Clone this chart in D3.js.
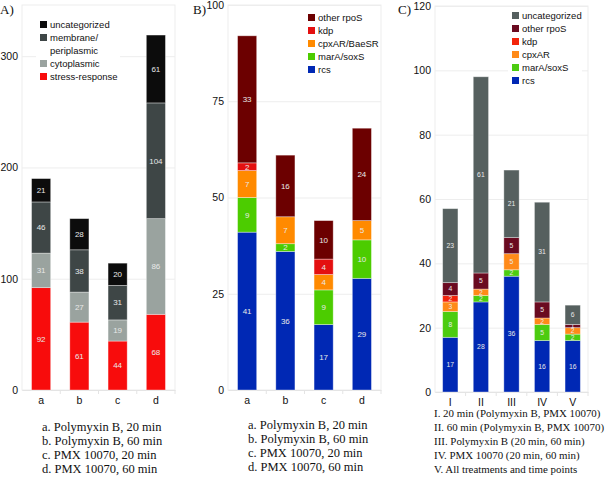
<!DOCTYPE html>
<html><head><meta charset="utf-8">
<script src="https://cdn.jsdelivr.net/npm/d3@7"></script>
<style>body{margin:0;background:#fff;} svg{display:block;}</style>
</head><body>
<svg id="c" width="608" height="483"></svg>
<script>
// ---- Panel A data
const catsA = ["a","b","c","d"];
const seriesA = ["stress-response","cytoplasmic","membrane/periplasmic","uncategorized"];
const stressA = [92,61,44,68];
const cytoA = [31,27,19,86];
const membA = [46,38,31,104];
const uncatA = [21,28,20,61];
const ticksA = [0,100,200,300];
const captionA = ["a. Polymyxin B, 20 min","b. Polymyxin B, 60 min","c. PMX 10070, 20 min","d. PMX 10070, 60 min"];
// ---- Panel B data
const catsB = ["a","b","c","d"];
const seriesB = ["rcs","marA/soxS","cpxAR/BaeSR","kdp","other rpoS"];
const rcsB = [41,36,17,29];
const marB = [9,2,9,10];
const cpxB = [7,7,4,5];
const kdpB = [2,0,4,0];
const rpoB = [33,16,10,24];
const ticksB = [0,25,50,75,100];
const captionB = captionA;
// ---- Panel C data
const catsC = ["I","II","III","IV","V"];
const seriesC = ["rcs","marA/soxS","cpxAR","kdp","other rpoS","uncategorized"];
const rcsC = [17,28,36,16,16];
const marC = [8,2,2,5,2];
const cpxC = [3,2,5,2,2];
const kdpC = [2,0,0,0,0];
const rpoC = [4,5,5,5,1];
const uncatC = [23,61,21,31,6];
const ticksC = [0,20,40,60,80,100,120];
const captionC = ["I. 20 min (Polymyxin B, PMX 10070)","II. 60 min (Polymyxin B, PMX 10070)","III. Polymyxin B (20 min, 60 min)","IV. PMX 10070 (20 min, 60 min)","V. All treatments and time points"];

const colorsA = {"uncategorized":"#0c0c0c","membrane/periplasmic":"#3e4646","cytoplasmic":"#9aa39f","stress-response":"#f80c0c"};
const colorsB = {"other rpoS":"#6c0000","kdp":"#e41010","cpxAR/BaeSR":"#ff8a00","marA/soxS":"#4ccc00","rcs":"#0028b4"};
const colorsC = {"uncategorized":"#56605f","other rpoS":"#6a0a20","kdp":"#f3240b","cpxAR":"#ff8a18","marA/soxS":"#4ccc10","rcs":"#0028b4"};

const svg = d3.select("#c");
const sans = "'Liberation Sans', Arial, sans-serif";
const serif = "'Liberation Serif', 'Times New Roman', serif";

function panel(o){
  const g = svg.append("g");
  const x = d3.scaleBand().domain(o.cats).range([o.x0,o.x1]).paddingInner(0.5).paddingOuter(0.25);
  const y = d3.scaleLinear().domain([0,o.ymax]).range([o.y0,o.ytop]);
  g.append("rect").attr("x",o.x0).attr("y",y(o.ymax)).attr("width",o.x1-o.x0).attr("height",o.y0-y(o.ymax))
    .attr("fill","none").attr("stroke","#ededed");
  g.selectAll(".gl").data(o.ticks).join("line").attr("x1",o.x0).attr("x2",o.x1)
    .attr("y1",d=>y(d)+0.5).attr("y2",d=>y(d)+0.5).attr("stroke","#ededed");
  const ya = d3.axisLeft(y).tickValues(o.ticks).tickSize(0).tickPadding(4);
  const yg = g.append("g").attr("transform",`translate(${o.x0},0)`).call(ya);
  yg.select(".domain").remove();
  yg.selectAll("text").attr("font-family",sans).attr("font-size",10.5).attr("fill","#111");
  const xa = d3.axisBottom(x).tickSize(0).tickPadding(7);
  const xg = g.append("g").attr("transform",`translate(0,${o.y0})`).call(xa);
  xg.select(".domain").attr("stroke","#e4e4e4");
  xg.selectAll("text").attr("font-family",sans).attr("font-size",10.5).attr("fill","#111");
  g.selectAll(".sep").data(d3.range(1,o.cats.length+1)).join("line")
    .attr("x1",d=>o.x0+d*(o.x1-o.x0)/o.cats.length).attr("x2",d=>o.x0+d*(o.x1-o.x0)/o.cats.length)
    .attr("y1",o.y0).attr("y2",o.y0+4).attr("stroke","#e4e4e4");
  const table = o.cats.map((c,i)=>{const r={cat:c}; o.series.forEach((s,j)=>r[s]=o.vals[j][i]); return r;});
  const stack = d3.stack().keys(o.series)(table);
  stack.forEach(layer=>{
    const lg = g.append("g");
    layer.forEach(d=>{
      const v = d[1]-d[0];
      if(v<=0) return;
      lg.append("rect").attr("x",x(d.data.cat)).attr("width",x.bandwidth())
        .attr("y",y(d[1])).attr("height",y(d[0])-y(d[1]))
        .attr("fill",o.colors[layer.key]).attr("stroke","rgba(255,255,255,0.45)").attr("stroke-width",0.8);
      lg.append("text").attr("x",x(d.data.cat)+x.bandwidth()/2).attr("y",(y(d[0])+y(d[1]))/2+o.vfs*0.35)
        .attr("text-anchor","middle").attr("font-family",sans).attr("font-size",o.vfs).attr("fill","#e8e8e8").text(v);
    });
  });
  const lgd = g.append("g");
  lgd.append("rect").attr("x",o.lx-4).attr("y",o.ly-9).attr("width",o.lw).attr("height",o.lh).attr("fill","#fff");
  o.legend.forEach((it,i)=>{
    lgd.append("rect").attr("x",o.lx).attr("y",it.y-6).attr("width",7).attr("height",7).attr("fill",o.colors[it.key]);
    it.lines.forEach((ln,k)=>{
      lgd.append("text").attr("x",o.lx+10).attr("y",it.y+1+k*12.5).attr("font-family",sans).attr("font-size",9.5)
        .attr("fill","#111").text(ln);
    });
  });
  g.append("text").attr("x",o.px).attr("y",14).attr("font-family",serif).attr("font-size",13).attr("fill","#111").text(o.plabel);
  o.caption.forEach((t,i)=>{
    g.append("text").attr("x",o.cx).attr("y",o.cy+i*14).attr("font-family",serif).attr("font-size",o.cfs).attr("fill","#111").text(t);
  });
}

panel({cats:catsA, series:seriesA, vals:[stressA,cytoA,membA,uncatA], colors:colorsA,
  x0:22,x1:175,y0:390,ytop:5,ymax:346,ticks:ticksA, vfs:8,
  lx:40, ly:27, lw:84, lh:60,
  legend:[{key:"uncategorized",y:27,lines:["uncategorized"]},{key:"membrane/periplasmic",y:40,lines:["membrane/","periplasmic"]},
          {key:"cytoplasmic",y:66,lines:["cytoplasmic"]},{key:"stress-response",y:79,lines:["stress-response"]}],
  plabel:"A)", px:0, caption:captionA, cx:42, cy:431, cfs:12.5});

panel({cats:catsB, series:seriesB, vals:[rcsB,marB,cpxB,kdpB,rpoB], colors:colorsB,
  x0:228,x1:381,y0:390,ytop:5,ymax:100,ticks:ticksB, vfs:8,
  lx:308, ly:20, lw:70, lh:60,
  legend:[{key:"other rpoS",y:20,lines:["other rpoS"]},{key:"kdp",y:33,lines:["kdp"]},{key:"cpxAR/BaeSR",y:46,lines:["cpxAR/BaeSR"]},
          {key:"marA/soxS",y:59,lines:["marA/soxS"]},{key:"rcs",y:72,lines:["rcs"]}],
  plabel:"B)", px:193, caption:captionB, cx:248, cy:429, cfs:12.5});

panel({cats:catsC, series:seriesC, vals:[rcsC,marC,cpxC,kdpC,rpoC,uncatC], colors:colorsC,
  x0:435,x1:588,y0:392,ytop:6,ymax:120,ticks:ticksC, vfs:6.8,
  lx:512, ly:18, lw:74, lh:72,
  legend:[{key:"uncategorized",y:18,lines:["uncategorized"]},{key:"other rpoS",y:31,lines:["other rpoS"]},{key:"kdp",y:44,lines:["kdp"]},
          {key:"cpxAR",y:57,lines:["cpxAR"]},{key:"marA/soxS",y:70,lines:["marA/soxS"]},{key:"rcs",y:83,lines:["rcs"]}],
  plabel:"C)", px:398, caption:captionC, cx:434, cy:417, cfs:10.9});
</script>
</body></html>
